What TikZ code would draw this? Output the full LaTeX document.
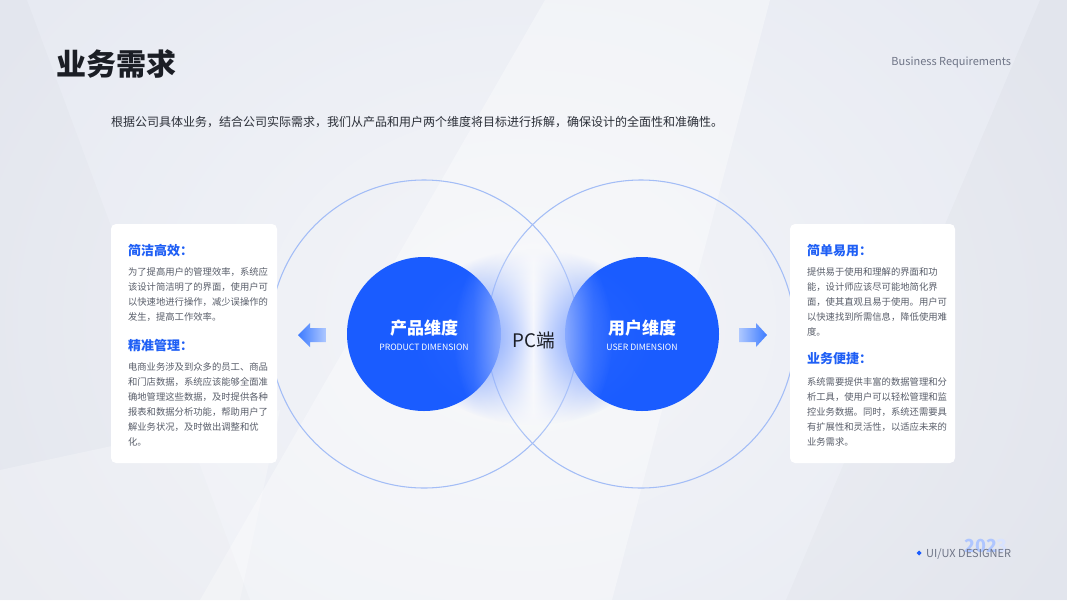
\documentclass[tikz,border=0pt]{standalone}
\usepackage{fontspec}
\setmainfont{Noto Sans CJK SC}
\usetikzlibrary{fadings,shadings}
\definecolor{bgbase}{HTML}{E7EAF2}
\definecolor{bluemain}{HTML}{1A5CFF}
\definecolor{outlineblue}{HTML}{A3BDF6}
\definecolor{headblue}{HTML}{1F5FF5}
\definecolor{bodygray}{HTML}{595E6A}
\definecolor{titlecol}{HTML}{1B1E25}
\definecolor{subcol}{HTML}{2A2E37}
\definecolor{graytxt}{HTML}{6F7587}
\definecolor{lensblue}{HTML}{2A66FF}
\definecolor{lensmid}{HTML}{F4F6FD}
\definecolor{arrowdark}{HTML}{3D7BFF}
\definecolor{arrowlight}{HTML}{AEC8FF}
\definecolor{yearcol}{HTML}{AFC6FF}
\definecolor{yearfade}{HTML}{D9E3FF}
\tikzfading[name=softdisc, inner color=transparent!0, outer color=transparent!100]
\pgfdeclarehorizontalshading{lensh}{100bp}{color(0bp)=(lensblue); color(38bp)=(lensblue); color(50bp)=(lensmid); color(62bp)=(lensblue); color(100bp)=(lensblue)}
\tikzset{
  txt/.style={inner sep=0pt, outer sep=0pt},
  cardhead/.style={txt, anchor=west, text=headblue, font=\bfseries\fontsize{9.75}{12}\selectfont},
  cardbody/.style={txt, anchor=north west, align=left, text=bodygray, font=\fontsize{7}{11.25}\selectfont},
  ring/.style={draw=outlineblue, line width=0.8pt},
  bigdot/.style={fill=bluemain},
  dimtitle/.style={txt, text=white, font=\bfseries\fontsize{12.75}{14}\selectfont},
  dimsub/.style={txt, text=white, font=\fontsize{6.5}{7.5}\selectfont},
  card/.style={fill=white, rounded corners=3.75pt}
}
\begin{document}
\begin{tikzpicture}[x=0.75pt,y=-0.75pt]
\useasboundingbox (0,0) rectangle (1067,600);
% background
\fill[bgbase] (0,0) rectangle (1067,600);
\begin{scope}
\clip (0,0) rectangle (1067,600);
\fill[white, opacity=0.35] (545,0) -- (770,0) -- (612,600) -- (200,600) -- cycle;
\fill[black, opacity=0.015] (0,0) -- (27,0) -- (250,600) -- (0,600) -- cycle;
\fill[white, opacity=0.25] (0,470) -- (280,410) -- (240,600) -- (0,600) -- cycle;
\fill[black, opacity=0.02] (1040,0) -- (1067,0) -- (1067,600) -- (786,600) -- cycle;
\fill[white, path fading=softdisc, opacity=0.55] (520,320) ellipse (640 and 520);
\end{scope}
% title and subtitle
\node[txt, anchor=west, text=titlecol, font=\bfseries\fontsize{22.5}{24}\selectfont] (title) at (56,64) {业务需求};
\node[txt, anchor=east, text=graytxt, font=\fontsize{8.25}{10}\selectfont] (entitle) at (1011,62) {Business Requirements};
\node[txt, anchor=west, text=subcol, font=\fontsize{9}{11}\selectfont] (intro) at (111,122) {根据公司具体业务，结合公司实际需求，我们从产品和用户两个维度将目标进行拆解，确保设计的全面性和准确性。};
% rings
\draw[ring] (424,334) circle (154);
\draw[ring] (641,334) circle (154);
% blue circles
\fill[bigdot] (424,334) circle (77);
\fill[bigdot] (642,334) circle (77);
% lens glow
\fill[white, path fading=softdisc, opacity=0.8] (533,337) ellipse (80 and 110);
\shade[shading=lensh, path fading=softdisc] (533,337) ellipse (125 and 88);
% center texts
\node[dimtitle] (prodt) at (424,328) {产品维度};
\node[dimsub] (prods) at (424,347) {PRODUCT DIMENSION};
\node[dimtitle] (usert) at (642,328) {用户维度};
\node[dimsub] (users) at (642,347) {USER DIMENSION};
\node[txt, text=titlecol, font=\fontsize{14}{16}\selectfont] (pc) at (534,340) {PC端};
% arrows
\shade[left color=arrowdark, right color=arrowlight] (298,335) -- (310,323) -- (310,328) -- (326,328) -- (326,342) -- (310,342) -- (310,347) -- cycle;
\shade[left color=arrowlight, right color=arrowdark] (767,335) -- (756,323) -- (756,328) -- (739,328) -- (739,342) -- (756,342) -- (756,347) -- cycle;
% cards
\fill[card] (111,224) rectangle (277,463);
\fill[card] (790,224) rectangle (955,463);
% left card text
\node[cardhead] (lh1) at (128,251) {简洁高效：};
\node[cardbody] (lb1) at (128,268) {为了提高用户的管理效率，系统应\\该设计简洁明了的界面，使用户可\\以快速地进行操作，减少误操作的\\发生，提高工作效率。};
\node[cardhead] (lh2) at (128,346) {精准管理：};
\node[cardbody] (lb2) at (128,363) {电商业务涉及到众多的员工、商品\\和门店数据，系统应该能够全面准\\确地管理这些数据，及时提供各种\\报表和数据分析功能，帮助用户了\\解业务状况，及时做出调整和优\\化。};
% right card text
\node[cardhead] (rh1) at (807,251) {简单易用：};
\node[cardbody] (rb1) at (807,268) {提供易于使用和理解的界面和功\\能，设计师应该尽可能地简化界\\面，使其直观且易于使用。用户可\\以快速找到所需信息，降低使用难\\度。};
\node[cardhead] (rh2) at (807,359) {业务便捷：};
\node[cardbody] (rb2) at (807,378) {系统需要提供丰富的数据管理和分\\析工具，使用户可以轻松管理和监\\控业务数据。同时，系统还需要具\\有扩展性和灵活性，以适应未来的\\业务需求。};
% footer
\node[txt, text=yearcol, font=\bfseries\fontsize{13.5}{14}\selectfont] (year) at (986,546) {202\textcolor{yearfade}{3}};
\fill[bluemain] (919,550.5) -- (921.5,553) -- (919,555.5) -- (916.5,553) -- cycle;
\node[txt, anchor=east, text=graytxt, font=\fontsize{8.25}{10}\selectfont] (ux) at (1011,554) {UI/UX DESIGNER};
\end{tikzpicture}
\end{document}
